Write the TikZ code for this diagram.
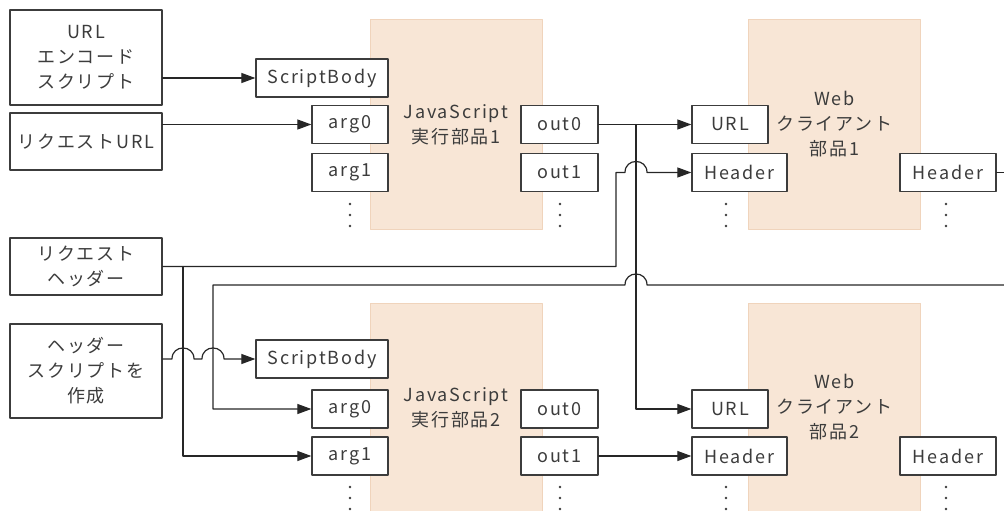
\documentclass[tikz,border=0pt]{standalone}
\usepackage{fontspec}
\setmainfont{Noto Sans CJK JP}[LetterSpace=10]
\usetikzlibrary{arrows.meta,calc}

\definecolor{partfill}{RGB}{248,230,214}
\definecolor{partline}{RGB}{240,212,188}
\definecolor{ink}{RGB}{60,60,60}

\tikzset{
  srcbox/.style={draw=ink, line width=1.3pt, fill=white, text=ink, align=center,
    inner sep=0pt, minimum width=152pt, font=\fontsize{18}{25}\selectfont},
  partbox/.style={draw=partline, line width=1pt, fill=partfill, text=ink, align=center,
    inner sep=0pt, minimum width=172pt, minimum height=209pt, font=\fontsize{18}{25}\selectfont},
  portbox/.style={draw=ink, line width=1.3pt, fill=white, text=ink,
    inner sep=0pt, minimum height=38pt, font=\fontsize{18}{22}\selectfont},
  wire/.style={line width=1.2pt, draw=black!85},
  arr/.style={wire, -{Triangle[length=14pt,width=10pt]}},
}

\begin{document}
\begin{tikzpicture}[x=1pt, y=-1pt, line cap=round, line join=round]

  %% ════ 部品（底色）════
  \node[partbox] (js1)  at (456,124.5)   {JavaScript\\実行部品1};
  \node[partbox] (js2)  at (456,407.5)   {JavaScript\\実行部品2};
  \node[partbox] (web1) at (834.5,124.5) {Web\\クライアント\\部品1};
  \node[partbox] (web2) at (834.5,407.5) {Web\\クライアント\\部品2};

  %% ════ 入力元 ════
  \node[srcbox, minimum height=95pt] (urlenc) at (86,57.5)  {URL\\エンコード\\スクリプト};
  \node[srcbox, minimum height=57pt] (requrl) at (86,141.5) {リクエストURL};
  \node[srcbox, minimum height=57pt] (reqhdr) at (86,266.5) {リクエスト\\ヘッダー};
  \node[srcbox, minimum height=94pt] (hdrscr) at (86,371)   {ヘッダー\\スクリプトを\\作成};

  %% ════ 端子（上段）════
  \node[portbox, minimum width=132pt] (sb1) at (322,78)    {ScriptBody};
  \node[portbox, minimum width=76pt]  (a10) at (350,124.5) {arg0};
  \node[portbox, minimum width=76pt]  (a11) at (350,172.5) {arg1};
  \node[portbox, minimum width=77pt]  (o10) at (559.5,124.5) {out0};
  \node[portbox, minimum width=77pt]  (o11) at (559.5,172.5) {out1};
  \node[portbox, minimum width=76pt]  (u1)  at (730,124.5)   {URL};
  \node[portbox, minimum width=95pt]  (h1)  at (739.5,172.5) {Header};
  \node[portbox, minimum width=96pt]  (hr1) at (948,172.5)   {Header};

  %% ════ 端子（下段）════
  \node[portbox, minimum width=132pt] (sb2) at (322,359)   {ScriptBody};
  \node[portbox, minimum width=76pt]  (a20) at (350,409)   {arg0};
  \node[portbox, minimum width=76pt]  (a21) at (350,456)   {arg1};
  \node[portbox, minimum width=77pt]  (o20) at (559.5,409) {out0};
  \node[portbox, minimum width=77pt]  (o21) at (559.5,456) {out1};
  \node[portbox, minimum width=76pt]  (u2)  at (730,409)   {URL};
  \node[portbox, minimum width=95pt]  (h2)  at (739.5,456) {Header};
  \node[portbox, minimum width=96pt]  (hr2) at (948,456)   {Header};

  %% ════ 省略点 ════
  \foreach \dx in {350,560,726,946}
    \foreach \dy in {204,215,226,487,498,509}
      \fill[ink] (\dx,\dy) circle (1.3);

  %% ════ 配線の基準点 ════
  \coordinate (tap)   at (636,124.5);
  \coordinate (upx)   at (616,0);
  \coordinate (lpx)   at (213,0);
  \coordinate (spx)   at (183,0);
  \coordinate (edgeR) at (1004,0);
  \coordinate (fbY)   at (0,285);

  %% ════ 直線の接続 ════
  \draw[arr] (urlenc.east |- sb1.west) -- (sb1.west);
  \draw[arr] (requrl.east |- a10.west) -- (a10.west);
  \draw[arr] (o10.east) -- (u1.west);
  \draw[arr] (tap) |- (u2.west);
  \draw[arr] (o21.east) -- (h2.west);
  \draw[wire] (hr1.east) -- (edgeR |- hr1.east);
  \draw[arr] (spx |- reqhdr.east) |- (a21.west);

  %% ════ 跨ぎ（ジャンプ）のある接続 ════
  \draw[arr] (reqhdr.east) -- (upx |- reqhdr.east)
    |- ($(tap |- h1.west)+(-11,0)$) .. controls +(0,-14.7) and +(0,-14.7) .. ++(22,0)
    -- (h1.west);
  \draw[arr] (edgeR |- fbY)
    -- ($(tap |- fbY)+(11,0)$) .. controls +(0,-14.7) and +(0,-14.7) .. ++(-22,0)
    -- (lpx |- fbY) |- (a20.west);
  \draw[arr] (hdrscr.east |- sb2.west)
    -- ($(spx |- sb2.west)+(-11,0)$) .. controls +(0,-14.7) and +(0,-14.7) .. ++(22,0)
    -- ($(lpx |- sb2.west)+(-11,0)$) .. controls +(0,-14.7) and +(0,-14.7) .. ++(22,0)
    -- (sb2.west);

  % 画面サイズを固定
  \pgfresetboundingbox
  \path[use as bounding box] (0,0) rectangle (1004,511);
\end{tikzpicture}
\end{document}
